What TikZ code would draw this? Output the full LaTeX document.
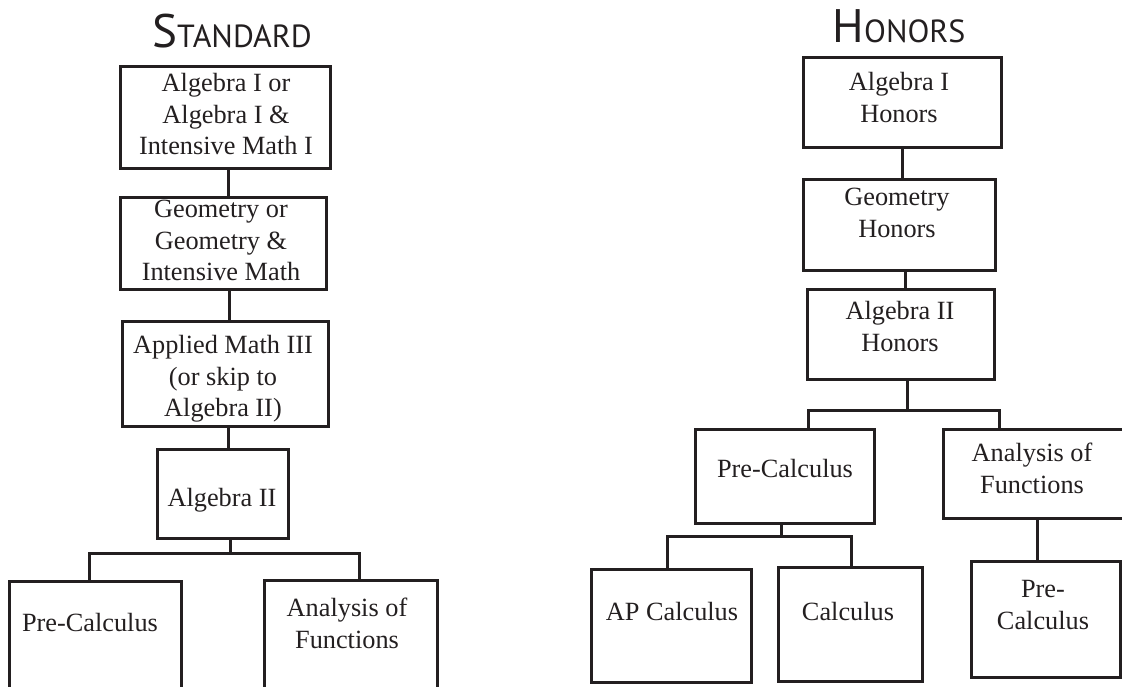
\documentclass[tikz,border=0pt]{standalone}
\usepackage{fontspec}
\setmainfont{Liberation Serif}
\newfontfamily\titlefont{PT Sans}
\usetikzlibrary{calc}
\definecolor{ink}{RGB}{35,31,32}
\begin{document}
\begin{tikzpicture}[x=1pt,y=-1pt,
  box/.style={draw=ink, line width=3pt, inner sep=0pt, line join=miter},
  txt/.style={inner sep=0pt, align=center, anchor=north, text=ink,
    font=\fontsize{26.3}{31.6}\selectfont, execute at begin node={\rule{0pt}{20pt}}},
  conn/.style={draw=ink, line width=3pt, line join=miter},
  ttl/.style={inner sep=0pt, anchor=base, text=ink, font=\titlefont}]
\path[use as bounding box, clip] (0,0) rectangle (1122,686);
% ---------- Standard ----------
\node[ttl] (tstd) at (232,47) {{\fontsize{47}{47}\selectfont S}{\fontsize{32}{32}\selectfont TANDARD}};
\node[box, minimum width=210, minimum height=102] (s1) at (225,117) {};
\node[box, minimum width=206, minimum height=92]  (s2) at (223,243) {};
\node[box, minimum width=206, minimum height=105] (s3) at (225,373.5) {};
\node[box, minimum width=131, minimum height=89]  (s4) at (222.5,493.5) {};
\node[box, minimum width=172, minimum height=119] (s5) at (95,640.5) {};
\node[box, minimum width=173, minimum height=120] (s6) at (350.5,640) {};
\node[txt] (ts1) at (226,73) {Algebra I or\\Algebra I \&\\Intensive Math I};
\node[txt] (ts2) at (221,200) {Geometry or\\Geometry \&\\Intensive Math};
\node[txt] (ts3) at (223,335) {Applied Math III\\(or skip to\\Algebra II)};
\node[txt] (ts4) at (222,486) {Algebra II};
\node[txt] (ts5) at (90,611) {Pre-Calculus};
\node[txt] (ts6) at (347,598) {Analysis of\\Functions};
\draw[conn] (s1.south -| 228,0) -- (s2.north -| 228,0);
\draw[conn] (s2.south -| 229,0) -- (s3.north -| 229,0);
\draw[conn] (s3.south -| 228,0) -- (s4.north -| 228,0);
\coordinate (js) at (230,553);
\draw[conn] (s4.south -| js) -- (js);
\draw[conn] (s5.north -| 89,0) |- (js) -| (s6.north -| 359,0);
% ---------- Honors ----------
\node[ttl] (thon) at (899,42) {{\fontsize{47}{47}\selectfont H}{\fontsize{32}{32}\selectfont ONORS}};
\node[box, minimum width=198, minimum height=90]  (h1) at (902,102) {};
\node[box, minimum width=192, minimum height=91]  (h2) at (899,224.5) {};
\node[box, minimum width=187, minimum height=90]  (h3) at (900.5,334) {};
\node[box, minimum width=179, minimum height=94]  (h4) at (784.5,476) {};
\node[box, minimum width=197, minimum height=89]  (h5) at (1041.5,473.5) {};
\node[box, minimum width=160, minimum height=113] (h6) at (671,625.5) {};
\node[box, minimum width=144, minimum height=114] (h7) at (850,624) {};
\node[box, minimum width=149, minimum height=116] (h8) at (1045.5,619) {};
\node[txt] (th1) at (899,72) {Algebra I\\Honors};
\node[txt] (th2) at (897,188) {Geometry\\Honors};
\node[txt] (th3) at (900,301) {Algebra II\\Honors};
\node[txt] (th4) at (785,457) {Pre-Calculus};
\node[txt] (th5) at (1032,443) {Analysis of\\Functions};
\node[txt] (th6) at (672,600) {AP Calculus};
\node[txt] (th7) at (848,600) {Calculus};
\node[txt] (th8) at (1043,580) {Pre-\\Calculus};
\draw[conn] (h1.south -| 902,0) -- (h2.north -| 902,0);
\draw[conn] (h2.south -| 905,0) -- (h3.north -| 905,0);
\coordinate (jh1) at (907,410);
\draw[conn] (h3.south -| jh1) -- (jh1);
\draw[conn] (h4.north -| 808,0) |- (jh1) -| (h5.north -| 999,0);
\coordinate (jh2) at (781,536);
\draw[conn] (h4.south -| jh2) -- (jh2);
\draw[conn] (h6.north -| 667,0) |- (jh2) -| (h7.north -| 851,0);
\draw[conn] (h5.south -| 1037,0) -- (h8.north -| 1037,0);
\end{tikzpicture}
\end{document}
